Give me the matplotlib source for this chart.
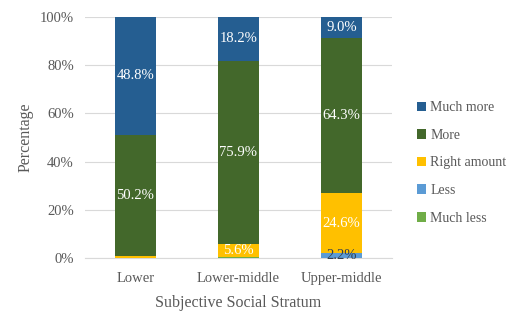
import matplotlib
matplotlib.use("Agg")
import matplotlib.pyplot as plt
import numpy as np

categories = ["Lower", "Lower-middle", "Upper-middle"]
series_names = ["Much less", "Less", "Right amount", "More", "Much more"]
much_less = [0.0, 0.3, 0.0]
less = [0.0, 0.0, 2.2]
right_amount = [1.0, 5.6, 24.6]
more = [50.2, 75.9, 64.3]
much_more = [48.8, 18.2, 9.0]
colors = ["#70AD47", "#5B9BD5", "#FFC000", "#43682B", "#255E91"]
yticks = [0, 20, 40, 60, 80, 100]

plt.rcParams['font.family'] = ['Liberation Serif', 'DejaVu Serif']
fig = plt.figure(figsize=(5.17, 3.14), dpi=100)
ax = fig.add_axes([85/517, 1-258/314, (392-85)/517, (258-17)/314])

x = np.arange(len(categories))
data = [much_less, less, right_amount, more, much_more]
bottom = np.zeros(len(categories))
handles = []
for name, vals, c in zip(series_names, data, colors):
    vals = np.array(vals)
    b = ax.bar(x, vals, 0.4, bottom=bottom, color=c, label=name, zorder=3)
    handles.append(b)
    for xi, v, bt in zip(x, vals, bottom):
        if v >= 2:
            col = "#333F50" if v < 3 else "white"
            ax.text(xi, bt + v/2, f"{v:.1f}%", ha="center", va="center",
                    color=col, fontsize=10.5, zorder=4)
    bottom += vals

ax.set_xlim(-0.49, 2.49)
ax.set_ylim(0, 100)
ax.set_yticks(yticks)
ax.set_yticklabels([f"{t}%" for t in yticks], color="#595959", fontsize=10.5)
ax.set_xticks(x)
ax.set_xticklabels(categories, color="#595959", fontsize=10.5)
ax.tick_params(axis="y", length=0, pad=8)
ax.tick_params(axis="x", length=0, pad=10)
ax.grid(axis="y", color="#D9D9D9", linewidth=0.8, zorder=0)
for s in ["top", "right", "left"]:
    ax.spines[s].set_visible(False)
ax.spines["bottom"].set_color("#D9D9D9")
ax.set_ylabel("Percentage", color="#595959", fontsize=11.5)
ax.yaxis.set_label_coords(-(85-34)/307, 0.5)
ax.set_xlabel("Subjective Social Stratum", color="#595959", fontsize=11.5, labelpad=7)

leg = fig.legend(handles[::-1], series_names[::-1], loc="center left",
                 bbox_to_anchor=(404/517, 1-163/314), frameon=False, fontsize=10,
                 handlelength=0.7, handleheight=0.7, handletextpad=0.3,
                 labelspacing=1.05, labelcolor="#595959")

fig.savefig("out.png", dpi=100)
